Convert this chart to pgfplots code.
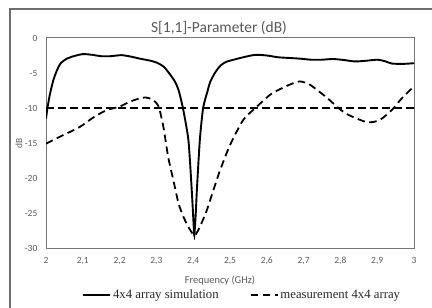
\documentclass[border=0pt]{standalone}
\usepackage{fontspec}
\setmainfont{Carlito}
\newfontfamily\seriffont{Liberation Serif}
\usepackage{pgfplots}
\pgfplotsset{compat=1.18}
\definecolor{txtgray}{RGB}{89,89,89}
\definecolor{framegray}{RGB}{118,118,118}
\definecolor{outergray}{RGB}{110,110,110}
\definecolor{legtxt}{RGB}{40,40,40}
\begin{document}
\begin{tikzpicture}[x=1bp,y=1bp]
\useasboundingbox (0,0) rectangle (432,308);
\draw[outergray, line width=1.2bp] (10,-10) -- (10,299) -- (445,299);
\begin{axis}[
  at={(46bp,60bp)}, anchor=south west,
  scale only axis, width=368bp, height=210bp,
  xmin=2, xmax=3, ymin=-30, ymax=0,
  xtick={2,2.1,2.2,2.3,2.4,2.5,2.6,2.7,2.8,2.9,3},
  ytick={-30,-25,-20,-15,-10,-5,0},
  /pgf/number format/assume math mode=true,
  /pgf/number format/use comma,
  tick style={draw=none},
  axis line style={framegray, line width=1bp},
  ticklabel style={font=\fontsize{9.5}{11}\selectfont, text=txtgray},
  xticklabel style={anchor=base, yshift=-15.3bp},
  yticklabel style={anchor=east, inner sep=0pt, xshift=-8.5bp},
  title={S[1,1]-Parameter (dB)},
  title style={at={(axis description cs:0.5,1)}, anchor=base, yshift=0bp, xshift=-11bp,
    font=\fontsize{15.5}{18}\selectfont, text=txtgray},
  xlabel={Frequency (GHz)},
  xlabel style={at={(axis description cs:0.5,0)}, anchor=base, yshift=-35bp, xshift=-10bp,
    font=\fontsize{10.5}{12}\selectfont, text=txtgray},
  ylabel={dB},
  ylabel style={at={(axis description cs:-0.0734,0.5)}, anchor=center,
    font=\fontsize{9.4}{11}\selectfont, text=txtgray},
  legend columns=2,
  legend style={at={(axis description cs:0.533,-0.2238)}, anchor=center, draw=none, fill=none,
    font=\seriffont\fontsize{12.8}{14}\selectfont, text=legtxt, inner sep=0pt,
    /tikz/every even column/.append style={column sep=29bp}},
  legend cell align=left,
  legend image code/.code={\draw[#1] (0bp,0bp) -- (27bp,0bp);},
]
\addplot[black, line width=1.9bp, smooth, tension=0.4] coordinates {
(2.000,-11.5) (2.004,-10.0) (2.010,-8.2) (2.020,-6.0) (2.030,-4.6) (2.040,-3.6)
(2.055,-3.0) (2.075,-2.6) (2.100,-2.3) (2.125,-2.4) (2.150,-2.6) (2.175,-2.6)
(2.205,-2.45) (2.230,-2.65) (2.255,-2.95) (2.280,-3.2) (2.300,-3.5) (2.320,-4.1)
(2.337,-5.2) (2.350,-6.2) (2.360,-7.4) (2.372,-10.0) (2.387,-14.6) (2.396,-21.7)
(2.401,-26.5) (2.403,-28.2) (2.407,-25.0) (2.410,-21.7) (2.418,-14.6) (2.427,-10.0)
(2.440,-7.4) (2.446,-6.3) (2.460,-4.9) (2.475,-3.9) (2.490,-3.4) (2.510,-3.1)
(2.540,-2.7) (2.570,-2.4) (2.600,-2.5) (2.630,-2.75) (2.660,-2.85) (2.690,-2.95)
(2.720,-3.1) (2.750,-3.1) (2.780,-3.0) (2.810,-3.15) (2.840,-3.35) (2.870,-3.25)
(2.900,-3.1) (2.920,-3.3) (2.940,-3.65) (2.970,-3.7) (3.000,-3.6)
};
\addlegendentry{4x4 array simulation}
\addplot[black, line width=1.8bp, dash pattern=on 7.5bp off 4.5bp, smooth, tension=0.4] coordinates {
(2.000,-15.1) (2.038,-14.1) (2.092,-12.7) (2.130,-11.3) (2.165,-10.3) (2.200,-9.8)
(2.228,-9.1) (2.250,-8.7) (2.270,-8.5) (2.290,-8.8) (2.306,-9.8) (2.319,-12.7)
(2.332,-17.0) (2.346,-20.3) (2.360,-23.6) (2.373,-25.5) (2.387,-27.0) (2.399,-28.0)
(2.405,-28.2) (2.418,-27.0) (2.437,-24.6) (2.455,-21.7) (2.473,-18.9) (2.500,-15.3)
(2.536,-11.7) (2.573,-9.8) (2.609,-8.1) (2.636,-7.3) (2.665,-6.6) (2.690,-6.2)
(2.715,-6.6) (2.736,-7.4) (2.765,-8.6) (2.790,-9.8) (2.815,-10.8) (2.844,-11.5)
(2.870,-12.0) (2.890,-12.0) (2.910,-11.6) (2.925,-11.0) (2.945,-10.0) (2.962,-8.9)
(2.990,-7.4) (3.000,-7.0)
};
\addlegendentry{measurement 4x4 array}
\addplot[black, line width=1.8bp, dash pattern=on 7.5bp off 4.5bp, forget plot] coordinates {
(2,-10) (3,-10)
};
\end{axis}
\end{tikzpicture}
\end{document}
